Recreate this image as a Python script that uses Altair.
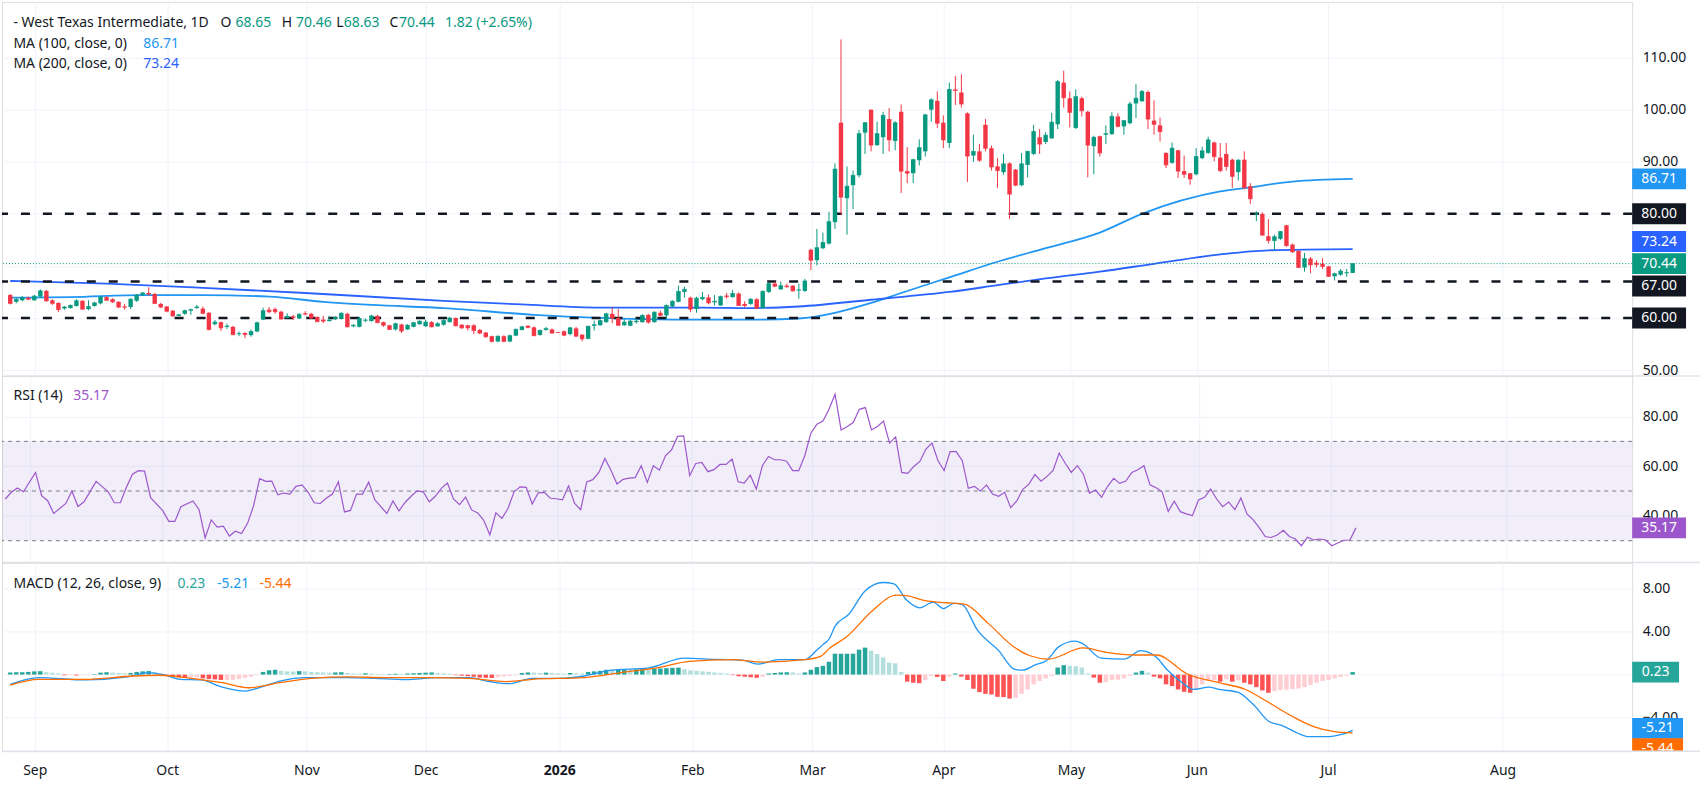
import altair as alt
import pandas as pd

FONT = "Noto Sans"
TXT = "#131722"
UP = "#089981"
DOWN = "#f23645"
GRID = "#f0f3fa"
W = 1634
H_PRICE, H_RSI, H_MACD = 375, 187, 189
X_DOMAIN = [-0.54, 268.6]

# ---------------- price candles (daily) ----------------
opens = [64.4, 63.1, 63.4, 63.9, 63.4, 64.1, 65.2, 63.4, 62.9, 61.8,
         61.9, 62.3, 63.3, 61.7, 62.3, 62.8, 64.0, 63.6, 63.1, 62.2,
         62.1, 63.3, 64.4, 64.8, 64.6, 62.7, 62.2, 61.4, 60.4, 60.8,
         61.4, 61.9, 61.8, 61.0, 58.8, 59.2, 58.3, 58.3, 56.9, 57.1,
         56.7, 57.4, 59.7, 61.6, 61.7, 61.2, 60.0, 60.3, 59.9, 60.9,
         60.8, 60.2, 59.7, 59.4, 59.8, 59.8, 60.8, 58.4, 58.3, 59.5,
         59.4, 60.4, 59.2, 58.6, 57.8, 58.75, 57.8, 58.3, 58.8, 58.4,
         59.2, 58.4, 58.7, 59.2, 60.0, 58.7, 58.6, 58.6, 57.7, 57.2,
         56.5, 55.5, 56.5, 55.5, 56.6, 57.7, 58.5, 58.2, 56.75, 57.7,
         57.8, 57.25, 57.45, 56.9, 58.0, 56.8, 56.0, 58.5, 58.6, 59.2,
         60.8, 60.0, 58.6, 58.5, 59.2, 59.2, 60.6, 59.2, 61.0, 60.5,
         62.2, 63.1, 65.0, 63.9, 61.7, 63.6, 63.95, 63.0, 62.4, 64.3,
         64.0, 64.7, 62.7, 62.7, 63.6, 61.9, 65.0, 66.6, 65.5, 66.2,
         66.2, 65.3, 65.2, 73.1, 71.1, 73.4, 74.3, 78.4, 97.5, 83.0,
         85.5, 87.4, 95.6, 100.0, 93.2, 94.7, 98.2, 94.0, 99.6, 88.2,
         87.8, 90.3, 92.0, 100.0, 101.7, 97.5, 93.6, 103.9, 103.3, 99.3,
         91.2, 92.0, 97.1, 92.6, 89.1, 88.0, 89.7, 88.5, 85.5, 89.4,
         91.5, 94.7, 93.8, 94.5, 97.2, 105.2, 102.2, 96.5, 102.2, 99.6,
         93.0, 94.9, 95.2, 95.3, 98.7, 96.8, 97.4, 101.2, 101.6, 103.4,
         97.9, 97.0, 91.7, 89.8, 92.2, 88.2, 87.8, 87.6, 90.7, 91.7,
         93.7, 90.8, 91.5, 90.4, 88.0, 90.4, 85.3, 79.9, 80.0, 75.7,
         74.8, 75.2, 77.8, 74.1, 72.9, 69.7, 71.4, 70.6, 70.4, 69.9,
         68.0, 68.3, 68.6, 68.65]
highs = [64.6, 63.8, 64.2, 64.1, 64.4, 65.5, 65.4, 63.6, 63.0, 62.3,
         62.6, 63.6, 63.4, 63.4, 63.1, 64.2, 64.2, 63.8, 63.2, 62.7,
         63.8, 64.6, 65.0, 65.9, 64.8, 62.9, 62.3, 61.5, 60.8, 61.6,
         61.8, 62.5, 62.2, 61.1, 59.6, 59.3, 58.9, 58.5, 57.4, 57.3,
         57.8, 59.3, 62.0, 62.1, 62.0, 61.4, 60.9, 60.6, 60.9, 61.3,
         61.0, 60.3, 60.4, 60.4, 60.3, 61.1, 61.0, 58.8, 60.2, 59.9,
         60.6, 60.6, 59.3, 58.7, 59.1, 58.9, 58.8, 59.2, 59.5, 59.7,
         59.4, 59.2, 59.8, 60.2, 60.1, 58.8, 58.7, 58.8, 57.9, 57.3,
         56.6, 56.6, 56.7, 56.8, 58.0, 58.5, 58.6, 58.4, 57.8, 58.3,
         58.0, 57.3, 57.6, 58.3, 58.3, 56.9, 58.5, 59.5, 59.7, 61.0,
         62.0, 61.7, 59.8, 59.6, 59.9, 60.7, 60.8, 61.3, 61.4, 62.6,
         63.4, 66.2, 66.0, 64.1, 64.1, 65.0, 64.5, 64.4, 64.3, 64.8,
         65.4, 64.9, 63.2, 63.8, 63.8, 65.3, 66.8, 67.0, 67.0, 66.6,
         66.3, 66.6, 67.5, 73.3, 77.1, 76.4, 80.4, 89.7, 113.5, 89.1,
         88.3, 96.1, 97.6, 100.0, 97.7, 99.6, 100.3, 97.8, 101.0, 92.8,
         90.6, 94.3, 99.2, 102.2, 103.5, 98.9, 105.2, 106.5, 106.8, 99.5,
         95.2, 93.4, 98.2, 93.1, 90.7, 91.5, 89.9, 88.6, 91.7, 92.0,
         97.1, 96.3, 95.7, 99.4, 105.7, 107.5, 103.5, 103.9, 102.5, 99.8,
         95.0, 95.0, 97.0, 99.5, 99.3, 97.9, 101.5, 104.9, 103.8, 103.7,
         101.8, 98.5, 91.8, 93.7, 92.3, 91.2, 87.8, 92.6, 92.9, 94.8,
         93.9, 93.6, 93.6, 90.6, 90.5, 92.0, 85.9, 80.5, 80.3, 79.0,
         76.0, 76.7, 77.9, 74.3, 72.9, 72.5, 71.7, 71.1, 71.5, 70.0,
         68.7, 69.4, 69.4, 70.46]
lows = [62.6, 62.8, 63.2, 63.4, 63.3, 63.9, 63.1, 62.5, 61.1, 61.6,
        61.8, 62.2, 61.6, 61.5, 62.2, 62.6, 63.3, 62.9, 61.9, 61.6,
        61.7, 63.1, 64.2, 64.2, 62.7, 61.9, 61.1, 60.2, 60.3, 60.6,
        60.6, 61.8, 60.7, 57.6, 58.6, 57.5, 57.9, 56.7, 56.5, 56.1,
        56.4, 57.3, 59.6, 60.9, 60.8, 59.7, 59.9, 59.6, 59.8, 60.5,
        59.8, 59.2, 59.0, 59.3, 59.6, 59.7, 58.2, 58.2, 58.2, 59.2,
        59.3, 59.0, 58.3, 57.7, 57.6, 57.1, 57.7, 58.2, 58.7, 58.3,
        58.2, 58.3, 58.5, 59.1, 58.4, 57.9, 57.6, 56.9, 56.9, 56.2,
        55.3, 55.3, 55.4, 55.3, 56.5, 57.6, 58.0, 56.5, 56.6, 57.6,
        57.0, 57.1, 56.5, 56.7, 56.4, 55.5, 55.9, 57.6, 58.5, 59.1,
        59.0, 58.5, 58.5, 58.4, 58.9, 59.1, 58.9, 59.1, 60.3, 59.8,
        62.0, 63.0, 63.9, 61.1, 61.0, 63.4, 62.6, 62.4, 62.3, 63.7,
        63.9, 62.3, 62.0, 62.5, 61.7, 61.8, 64.8, 65.9, 65.4, 65.8,
        65.1, 63.7, 65.0, 69.2, 70.1, 73.2, 74.1, 77.1, 79.8, 76.0,
        80.9, 87.0, 91.5, 92.0, 93.0, 91.5, 92.0, 92.2, 84.0, 85.9,
        85.9, 89.3, 91.0, 97.7, 96.5, 92.6, 92.6, 100.9, 100.4, 86.1,
        90.0, 90.0, 92.0, 88.3, 85.0, 87.5, 79.0, 85.3, 85.3, 87.0,
        91.3, 91.5, 93.4, 94.4, 96.3, 100.4, 96.6, 96.3, 98.7, 87.0,
        87.6, 91.0, 93.4, 95.2, 96.6, 95.2, 97.2, 98.4, 101.6, 96.3,
        95.2, 93.9, 88.8, 89.6, 86.9, 86.9, 85.6, 87.4, 90.5, 91.5,
        90.1, 88.0, 88.3, 85.0, 86.4, 84.7, 81.9, 78.6, 75.9, 74.3,
        72.9, 75.0, 73.7, 72.5, 69.6, 68.9, 68.6, 69.7, 69.4, 67.9,
        67.2, 68.1, 67.9, 68.63]
closes = [62.8, 63.6, 63.9, 63.6, 64.2, 65.2, 63.3, 62.8, 61.6, 62.1,
          62.4, 63.3, 61.7, 62.2, 62.9, 64.0, 63.4, 63.1, 62.1, 62.06,
          63.6, 64.4, 64.8, 64.6, 62.8, 62.1, 61.3, 60.4, 60.6, 61.4,
          61.6, 62.1, 60.9, 57.8, 59.2, 58.1, 58.45, 56.8, 57.0, 56.8,
          57.4, 59.1, 61.4, 61.2, 61.2, 59.8, 60.3, 60.1, 60.7, 60.75,
          60.0, 59.3, 59.4, 59.6, 60.1, 60.9, 58.3, 58.6, 59.9, 59.6,
          60.4, 59.1, 58.6, 57.8, 58.9, 57.5, 58.6, 59.1, 59.4, 59.2,
          58.3, 58.9, 59.5, 60.0, 58.5, 58.1, 58.1, 57.6, 57.1, 56.4,
          55.5, 56.5, 55.5, 56.6, 57.8, 58.3, 58.2, 56.6, 57.6, 57.95,
          57.1, 57.2, 56.7, 58.1, 56.5, 56.0, 58.4, 58.7, 59.5, 60.8,
          60.0, 58.6, 59.2, 59.4, 59.4, 60.5, 59.2, 61.1, 60.5, 62.4,
          63.2, 65.1, 65.5, 61.7, 63.8, 63.95, 62.9, 63.2, 64.1, 64.1,
          64.7, 62.4, 62.4, 63.6, 61.9, 65.1, 66.6, 66.1, 66.2, 66.0,
          65.2, 65.4, 67.1, 71.1, 73.5, 74.5, 78.5, 88.6, 83.2, 85.3,
          87.4, 95.4, 97.5, 93.2, 95.4, 98.9, 94.2, 97.5, 88.2, 87.8,
          90.4, 92.7, 99.0, 101.9, 97.4, 94.2, 103.9, 103.7, 101.1, 91.1,
          92.0, 90.3, 92.6, 89.0, 88.3, 89.6, 83.8, 85.5, 89.6, 92.0,
          95.8, 93.4, 95.1, 97.6, 105.4, 102.3, 99.5, 102.5, 99.8, 93.2,
          94.7, 91.7, 95.4, 98.7, 96.8, 97.9, 101.1, 102.2, 103.5, 98.2,
          97.2, 95.8, 89.4, 92.6, 88.2, 87.6, 86.7, 91.0, 92.1, 94.2,
          91.0, 88.3, 89.1, 87.2, 90.3, 85.0, 82.9, 80.0, 75.9, 74.9,
          75.6, 76.6, 73.9, 72.7, 69.7, 71.4, 70.2, 70.3, 69.9, 68.0,
          68.5, 69.0, 68.7, 70.44]

# ---------------- moving averages (read at sample bars) ----------------
ma100_x = [0, 10, 22, 32, 43, 52, 60, 72, 87, 98, 110, 125, 131, 137, 143,
           148, 156, 164, 172, 181, 188, 201, 206, 213, 223]
ma100_v = [63.9, 64.0, 64.4, 64.4, 64.1, 63.1, 62.5, 61.9, 60.6, 60.0, 59.7,
           59.7, 59.9, 61.0, 62.9, 64.8, 67.8, 70.8, 73.4, 76.4, 80.0, 84.3,
           85.1, 86.2, 86.71]
ma200_x = [0, 16, 32, 49, 72, 85, 98, 115, 123, 131, 143, 156, 164, 172, 181,
           190, 201, 209, 223]
ma200_v = [67.1, 66.6, 65.8, 64.8, 63.3, 62.6, 62.0, 62.0, 61.9, 62.2, 63.5,
           65.0, 66.3, 67.6, 68.9, 70.4, 72.2, 73.0, 73.24]

# ---------------- RSI (14) ----------------
rsi_x = [0, 1, 2, 3, 5, 6, 7, 8, 10, 11, 12, 13, 15, 17, 18, 19, 20, 21, 22, 23,
         24, 26, 27, 28, 29, 31, 32, 33, 34, 35, 36, 37, 38, 39, 40, 41, 42, 43,
         44, 45, 46, 47, 48, 49, 50, 51, 52, 53, 54, 55, 56, 57, 58, 59, 60, 61,
         62, 63, 64, 65, 66, 67, 68, 69, 70, 71, 72, 73, 74, 75, 76, 77, 78, 79,
         80, 81, 82, 83, 84, 85, 86, 87, 88, 89, 90, 91, 92, 93, 94, 95, 96, 97,
         98, 99, 100, 101, 102, 103, 104, 105, 106, 107, 108, 109, 110, 111, 112,
         113, 114, 115, 116, 117, 118, 119, 120, 121, 122, 123, 124, 125, 126,
         127, 128, 129, 130, 131, 132, 133, 134, 135, 136, 137, 138, 139, 140,
         141, 142, 143, 144, 145, 146, 147, 148, 149, 150, 151, 152, 153, 154,
         155, 156, 157, 158, 159, 160, 161, 162, 163, 164, 165, 166, 167, 168,
         169, 170, 171, 172, 173, 174, 175, 176, 177, 178, 179, 180, 181, 182,
         183, 184, 185, 186, 187, 188, 189, 190, 191, 192, 193, 194, 195, 196,
         197, 198, 199, 200, 201, 202, 203, 204, 205, 206, 207, 208, 209, 210,
         211, 212, 213, 214, 215, 216, 217, 218, 219, 220, 221, 222, 223]
rsi_v = [46.8, 49.5, 51.2, 49.7, 57.5, 48.1, 46.1, 41.0, 45.0, 50.0, 43.8, 45.7,
         53.9, 49.7, 45.3, 45.3, 51.5, 56.8, 58.2, 58.0, 47.3, 42.1, 37.8, 37.8,
         43.7, 46.0, 42.5, 31.1, 38.4, 35.5, 35.9, 31.9, 33.8, 32.9, 37.0, 44.1,
         55.0, 53.9, 54.0, 48.5, 49.2, 48.8, 51.9, 52.5, 49.5, 45.3, 45.0, 47.1,
         48.8, 53.7, 41.6, 42.2, 48.8, 48.8, 53.6, 46.5, 43.7, 41.0, 46.0, 42.0,
         45.4, 47.9, 50.1, 49.7, 45.7, 47.9, 51.1, 53.2, 46.8, 44.5, 47.6, 42.4,
         41.2, 38.2, 32.3, 41.2, 39.0, 43.0, 49.7, 51.7, 51.5, 44.8, 49.3, 49.5,
         47.1, 46.9, 46.5, 52.1, 45.0, 42.5, 53.7, 54.6, 57.5, 63.1, 58.4, 52.8,
         54.7, 55.2, 55.4, 60.2, 53.5, 60.2, 58.4, 64.2, 66.6, 72.0, 72.2, 56.2,
         61.1, 61.5, 57.8, 58.6, 60.7, 60.7, 62.9, 53.7, 53.2, 56.4, 50.8, 60.2,
         63.9, 62.6, 62.6, 62.0, 58.2, 58.2, 64.2, 73.3, 76.9, 78.2, 82.9, 89.0,
         74.6, 76.0, 77.6, 82.9, 83.6, 74.6, 76.0, 78.2, 69.3, 71.8, 57.5, 57.1,
         59.9, 61.9, 66.9, 69.3, 62.2, 58.2, 65.9, 65.9, 62.2, 51.1, 51.9, 50.0,
         52.5, 48.8, 47.9, 49.5, 43.3, 46.0, 50.7, 52.8, 56.7, 54.0, 55.9, 58.3,
         65.3, 61.2, 57.5, 60.2, 56.8, 49.2, 50.4, 47.5, 51.9, 55.1, 53.1, 54.0,
         57.5, 58.6, 60.2, 52.5, 51.3, 49.7, 41.8, 45.9, 41.7, 40.8, 40.1, 46.4,
         47.5, 50.8, 46.8, 43.7, 45.6, 42.5, 47.2, 40.8, 38.5, 35.4, 31.7, 31.3,
         32.3, 34.2, 31.7, 30.7, 28.0, 31.4, 30.3, 30.7, 30.3, 28.0, 29.1, 30.2,
         30.3, 35.17]

# ---------------- MACD (12, 26, close, 9) ----------------
macd_x = [0, 4.7, 12.5, 19.5, 23, 25.6, 28.2, 31.7, 35.2, 39.1, 41.3, 44.8, 49.2,
          56.1, 60.5, 65.7, 71, 76.2, 79.7, 82.8, 86.7, 91, 95.4, 99.8, 105.9,
          112, 117.2, 121.6, 124.2, 127.7, 132, 134, 135, 136, 137, 139.3, 142,
          145, 146.8, 148.9, 151.1, 153.3, 155, 156.8, 158.1, 160.7, 164.2,
          166.8, 168.1, 170.3, 172.1, 174.2, 176.9, 178.2, 181.2, 185.1, 187.8,
          190.4, 192.1, 194.7, 196.5, 199.1, 200.8, 203.9, 206.5, 209.1, 211.3,
          213.9, 215.7, 219.1, 221.3, 223]
macd_v = [-0.91, -0.28, -0.5, -0.22, 0.19, -0.03, -0.44, -0.5, -1.17, -1.54,
          -1.23, -0.6, -0.28, -0.28, -0.35, -0.47, -0.28, -0.28, -0.66, -0.85,
          -0.35, -0.35, -0.13, 0.41, 0.6, 1.54, 1.42, 1.35, 0.98, 1.39, 1.39,
          2.3, 2.8, 3.3, 4.5, 5.64, 7.81, 8.6, 8.47, 6.96, 6.24, 6.77, 6.17,
          6.65, 6.55, 4.13, 2.24, 0.5, 0.41, 0.91, 1.29, 2.61, 3.12, 2.87, 1.54,
          1.45, 2.24, 1.61, 0.5, -0.76, -1.39, -1.17, -1.39, -1.64, -2.8, -4.38,
          -4.76, -5.48, -5.8, -5.8, -5.57, -5.21]
signal_x = [0, 4.7, 12.5, 20.4, 24.8, 30, 35.2, 39.6, 44.8, 50, 56.1, 62.3, 69.2,
            76.2, 82.3, 86.7, 95.4, 101.5, 107.6, 112.8, 119.8, 125.1, 132,
            134.6, 136.2, 138.9, 143.3, 147.2, 148.9, 152, 155.5, 158.5, 162.5,
            166.8, 169.4, 172.5, 178.2, 182.1, 186.9, 190.4, 195.6, 200.8,
            205.2, 208.7, 213, 216.5, 220, 223]
signal_v = [-0.98, -0.44, -0.44, -0.13, -0.06, -0.35, -0.76, -1.23, -0.76,
            -0.35, -0.22, -0.28, -0.28, -0.35, -0.66, -0.44, -0.28, 0.19, 0.66,
            1.23, 1.39, 1.17, 1.39, 1.7, 2.5, 3.5, 6.02, 7.43, 7.37, 6.9, 6.71,
            6.58, 4.76, 2.55, 1.76, 1.45, 2.49, 2.08, 1.83, 1.83, 0.03, -0.76,
            -1.39, -2.49, -3.91, -4.85, -5.32, -5.44]
hist = [0.2, 0.22, 0.22, 0.25, 0.3, 0.32, 0.22, 0.18, 0.12, -0.05,
        -0.05, -0.08, -0.05, -0.03, 0.05, 0.18, 0.22, 0.18, 0.15, 0.12,
        0.15, 0.25, 0.3, 0.33, 0.2, 0.08, -0.1, -0.2, -0.25, -0.3,
        -0.28, -0.25, -0.35, -0.42, -0.45, -0.5, -0.5, -0.48, -0.4, -0.3,
        -0.2, -0.05, 0.25, 0.4, 0.45, 0.35, 0.3, 0.28, 0.32, 0.3,
        0.25, 0.22, 0.2, 0.18, 0.2, 0.22, 0.15, 0.1, 0.08, 0.12,
        0.1, 0.06, 0.05, 0.05, 0.08, 0.06, 0.1, 0.12, 0.15, 0.18,
        0.2, 0.15, 0.12, 0.08, -0.05, -0.1, -0.15, -0.2, -0.28, -0.3,
        -0.32, -0.25, -0.18, -0.12, -0.06, 0.15, 0.2, 0.18, 0.15, 0.18,
        0.15, 0.12, 0.1, 0.15, 0.12, 0.1, 0.25, 0.3, 0.35, 0.45,
        0.42, 0.45, 0.5, 0.48, 0.5, 0.52, 0.5, 0.55, 0.58, 0.6,
        0.63, 0.65, 0.5, 0.4, 0.35, 0.3, 0.25, 0.2, 0.15, 0.1,
        -0.05, -0.15, -0.2, -0.25, -0.3, -0.2, 0.1, 0.15, 0.2, 0.22,
        0.2, 0.1, 0.2, 0.45, 0.7, 0.82, 1.2, 1.95, 1.95, 1.95,
        1.95, 2.33, 2.52, 2.24, 1.92, 1.6, 1.13, 1.05, 0.25, -0.66,
        -0.76, -0.8, -0.5, -0.13, -0.22, -0.6, -0.19, 0.1, -0.19, -0.5,
        -1.32, -1.64, -1.8, -1.86, -2.08, -2.1, -2.24, -2.17, -1.8, -1.39,
        -0.91, -0.6, -0.35, -0.13, 0.66, 0.88, 0.82, 0.79, 0.66, 0.1,
        -0.28, -0.76, -0.7, -0.5, -0.48, -0.35, -0.13, 0.19, 0.35, 0.19,
        -0.19, -0.35, -0.91, -1.07, -1.39, -1.61, -1.7, -1.39, -0.91, -0.6,
        -0.5, -0.66, -0.44, -0.66, -0.54, -0.76, -0.91, -1.17, -1.48, -1.7,
        -1.54, -1.45, -1.4, -1.36, -1.3, -1.17, -0.98, -0.76, -0.6, -0.5,
        -0.35, -0.22, -0.1, 0.23]

# ---------------- axis / annotation values ----------------
month_pos = [4.07, 26.06, 49.2, 69.0, 91.2, 113.3, 133.2, 155.0, 176.2, 197.1, 218.9, 247.9]
month_lbl = ["Sep", "Oct", "Nov", "Dec", "2026", "Feb", "Mar", "Apr", "May", "Jun", "Jul", "Aug"]
levels = [80, 67, 60]
last_close = 70.44

# ---------------- helpers ----------------
pos_arr = "[" + ",".join(str(p) for p in month_pos) + "]"
lbl_arr = "[" + ",".join("'" + s + "'" for s in month_lbl) + "]"
label_expr = lbl_arr + "[indexof(" + pos_arr + ", datum.value)]"


def xenc(show_labels=False):
    axis = alt.Axis(values=month_pos, grid=True, gridColor=GRID, labels=show_labels,
                    ticks=False, tickSize=0, domain=False, title=None,
                    labelExpr=label_expr, labelFont=FONT, labelFontSize=14,
                    labelColor=TXT, labelPadding=12, labelOverlap=False,
                    labelFontWeight={"condition": {"test": "datum.value == 91.2", "value": "bold"},
                                     "value": "normal"})
    return alt.X("i:Q", scale=alt.Scale(domain=X_DOMAIN, nice=False, zero=False), axis=axis)


def make_yenc(domain, values):
    scale = alt.Scale(domain=domain, nice=False, zero=False)
    axis = alt.Axis(orient="right", values=values, grid=True, gridColor=GRID, ticks=False,
                    tickSize=0, domain=False, title=None, format=".2f", labelFont=FONT,
                    labelFontSize=14, labelColor=TXT, labelPadding=10, labelOverlap=False)

    def f(field):
        return alt.Y(field, type="quantitative", scale=scale, axis=axis)
    return f


y_price = make_yenc([48.85, 120.7], [50, 60, 70, 80, 90, 100, 110])
y_rsi = make_yenc([21.2, 96.3], [40, 60, 80])
y_macd = make_yenc([-7.15, 10.46], [-4, 0, 4, 8])


def one():
    return alt.Chart(pd.DataFrame({"k": [0]}))


def txt(s, x, y, color=TXT, size=14, weight="normal"):
    return alt.Chart(pd.DataFrame({"s": [s]})).mark_text(
        align="left", baseline="middle", font=FONT, fontSize=size, color=color,
        fontWeight=weight).encode(x=alt.value(x), y=alt.value(y), text="s:N")


def tag(val, color, yf, shift=0, x2=1688, top=-10.5, bottom=10.5):
    df = pd.DataFrame({"v": [val], "t": [f"{val:.2f}"]})
    b = alt.Chart(df)
    r = b.mark_rect(color=color, yOffset=shift + top, y2Offset=shift + bottom).encode(
        x=alt.value(W), x2=alt.value(x2), y=yf("v"), y2=alt.Y2("v"))
    t = b.mark_text(color="white", font=FONT, fontSize=14, align="center",
                    baseline="middle", dy=shift).encode(
        x=alt.value((W + x2) / 2), y=yf("v"), text="t:N")
    return [r, t]


def separator(h):
    return one().mark_rule(color="#e0e3eb", strokeWidth=1.5).encode(
        x=alt.value(0), x2=alt.value(1702), y=alt.value(h))


# ---------------- price panel ----------------
n = len(closes)
cdf = pd.DataFrame({"i": list(range(n)), "o": opens, "h": highs, "l": lows, "c": closes})
cdf["dir"] = ["up" if c >= o else "down" for o, c in zip(opens, closes)]
ccolor = alt.Color("dir:N", scale=alt.Scale(domain=["up", "down"], range=[UP, DOWN]), legend=None)
cbase = alt.Chart(cdf)

wicks = cbase.mark_rule(strokeWidth=1).encode(x=xenc(), y=y_price("l"), y2=alt.Y2("h"), color=ccolor)
bodies = cbase.mark_bar(width=4.4).encode(x=xenc(), y=y_price("o"), y2=alt.Y2("c"), color=ccolor)
dojis = cbase.mark_tick(orient="horizontal", size=4.4, thickness=1).encode(
    x=xenc(), y=y_price("c"), color=ccolor)

lvl = alt.Chart(pd.DataFrame({"lv": levels})).mark_rule(
    color=TXT, strokeWidth=2.5, strokeDash=[9, 13]).encode(y=y_price("lv"))
lastline = alt.Chart(pd.DataFrame({"lv": [last_close]})).mark_rule(
    color=UP, strokeWidth=1, strokeDash=[1, 2]).encode(y=y_price("lv"))

ma100 = alt.Chart(pd.DataFrame({"i": ma100_x, "v": ma100_v})).mark_line(
    color="#2196f3", strokeWidth=1.8, interpolate="monotone").encode(x=xenc(), y=y_price("v"))
ma200 = alt.Chart(pd.DataFrame({"i": ma200_x, "v": ma200_v})).mark_line(
    color="#2962ff", strokeWidth=1.8, interpolate="monotone").encode(x=xenc(), y=y_price("v"))

price_layers = [ma100, ma200, lvl, lastline, wicks, bodies, dojis]
price_layers += tag(86.71, "#2196f3", y_price)
price_layers += tag(80.00, TXT, y_price)
price_layers += tag(73.24, "#2962ff", y_price, shift=-7.5)
price_layers += tag(70.44, UP, y_price)
price_layers += tag(67.00, TXT, y_price, shift=4.5)
price_layers += tag(60.00, TXT, y_price)
price_layers += [
    txt("- West Texas Intermediate, 1D", 11.5, 21.5),
    txt("O", 219, 21.5), txt("68.65", 234, 21.5, UP),
    txt("H", 280.5, 21.5), txt("70.46", 294.7, 21.5, UP),
    txt("L", 335, 21.5), txt("68.63", 342.5, 21.5, UP),
    txt("C", 388.4, 21.5), txt("70.44", 398, 21.5, UP),
    txt("1.82 (+2.65%)", 444, 21.5, UP),
    txt("MA (100, close, 0)", 11.5, 42.5), txt("86.71", 141.6, 42.5, "#2196f3"),
    txt("MA (200, close, 0)", 11.5, 62.5), txt("73.24", 141.6, 62.5, "#2962ff"),
    separator(H_PRICE),
]
price = alt.layer(*price_layers).properties(width=W, height=H_PRICE)

# ---------------- RSI panel ----------------
RSI_C = "#9c56cc"
band = alt.Chart(pd.DataFrame({"top": [70], "bot": [30]})).mark_rect(
    color="#7e57c2", opacity=0.1).encode(x=alt.value(0), x2=alt.value(W),
                                         y=y_rsi("top"), y2=alt.Y2("bot"))
rsi_lv = alt.Chart(pd.DataFrame({"lv": [70, 50, 30]})).mark_rule(
    color="#787b86", strokeWidth=1, strokeDash=[4, 4]).encode(y=y_rsi("lv"))
rsi_line = alt.Chart(pd.DataFrame({"i": rsi_x, "v": rsi_v})).mark_line(
    color=RSI_C, strokeWidth=1.2).encode(x=xenc(), y=y_rsi("v"))
rsi_layers = [band, rsi_lv, rsi_line]
rsi_layers += tag(35.17, RSI_C, y_rsi)
rsi_layers += [txt("RSI (14)", 11.6, 20), txt("35.17", 71.5, 20, RSI_C), separator(H_RSI)]
rsi = alt.layer(*rsi_layers).properties(width=W, height=H_RSI)

# ---------------- MACD panel ----------------
hcols = []
for k, v in enumerate(hist):
    prev = hist[k - 1] if k > 0 else v
    if v >= 0:
        hcols.append("#26a69a" if v >= prev else "#b2dfdb")
    else:
        hcols.append("#ff5252" if v < prev else "#ffcdd2")
hdf = pd.DataFrame({"i": list(range(len(hist))), "hv": hist, "col": hcols})
hbars = alt.Chart(hdf).mark_bar(width=4.5).encode(
    x=xenc(True), y=y_macd("hv"), y2=alt.datum(0), color=alt.Color("col:N", scale=None))
macd_line = alt.Chart(pd.DataFrame({"i": macd_x, "v": macd_v})).mark_line(
    color="#2196f3", strokeWidth=1.3, interpolate="monotone").encode(x=xenc(True), y=y_macd("v"))
sig_line = alt.Chart(pd.DataFrame({"i": signal_x, "v": signal_v})).mark_line(
    color="#ff6d00", strokeWidth=1.3, interpolate="monotone").encode(x=xenc(True), y=y_macd("v"))
macd_layers = [hbars, macd_line, sig_line]
macd_layers += tag(0.23, "#26a69a", y_macd, x2=1681)
macd_layers += tag(-5.21, "#2196f3", y_macd, shift=-2, x2=1685)
# lowest tag is cut by the bottom of the pane, as in the reference
macd_layers += tag(-5.44, "#ff6d00", y_macd, shift=16, x2=1685, top=-10.5, bottom=2.4)
macd_layers += [
    txt("MACD (12, 26, close, 9)", 11.6, 21),
    txt("0.23", 176, 21, "#26a69a"),
    txt("-5.21", 215.5, 21, "#2196f3"),
    txt("-5.44", 258, 21, "#ff6d00"),
    separator(H_MACD),
]
macd = alt.layer(*macd_layers).properties(width=W, height=H_MACD)

chart = alt.vconcat(price, rsi, macd, spacing=0, bounds="flush").properties(
    padding=0, background="white").configure_view(stroke=None).configure(font=FONT)

chart.save("out.html", embed_options={"renderer": "svg", "actions": False})
